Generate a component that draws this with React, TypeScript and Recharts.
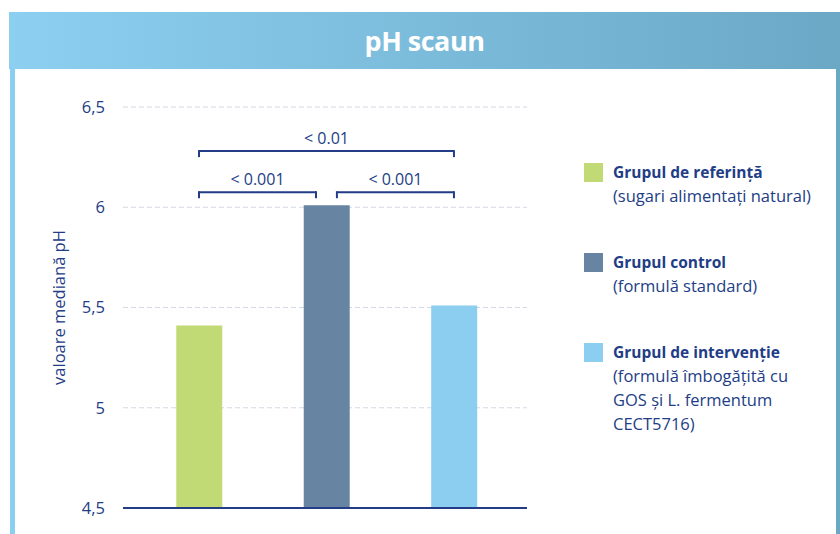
import React from 'react';
import {
  ComposedChart, Bar, Cell, XAxis, YAxis, CartesianGrid, ReferenceLine, ReferenceDot,
} from 'recharts';

const groupNames = ['Grupul de referință', 'Grupul control', 'Grupul de intervenție'];
const groupNotes = [
  ['(sugari alimentați natural)'],
  ['(formulă standard)'],
  ['(formulă îmbogățită cu', 'GOS și L. fermentum', 'CECT5716)'],
];
const groupPositions = [0, 1, 2];
const medianPH = [5.41, 6.01, 5.51];
const groupColors = ['#C1DA76', '#6884A3', '#8BCEF0'];
const yTicks = [4.5, 5, 5.5, 6, 6.5];
const brackets = [
  { from: 0, to: 2, y: 6.28, label: '< 0.01' },
  { from: 0, to: 0.918, y: 6.075, label: '< 0.001' },
  { from: 1.082, to: 2, y: 6.075, label: '< 0.001' },
];
const bracketTick = 0.03;
const labelRise = 0.067;

const NAVY = '#223D86';
const FONT = '"Open Sans", sans-serif';

const data = groupPositions.map((x, i) => ({ x, v: medianPH[i], name: groupNames[i] }));

export default function App() {
  return (
    <div style={{ position: 'absolute', left: 0, top: 0, width: 840, height: 534, background: '#fff', fontFamily: FONT, overflow: 'hidden' }}>
      <div style={{
        position: 'absolute', left: 9, top: 12, width: 831, height: 57,
        background: 'linear-gradient(to right, #8CCFF0, #6BA8C6)',
        color: '#fff', fontWeight: 700, fontSize: 27, textAlign: 'center', lineHeight: '57px',
        fontFamily: FONT, letterSpacing: -0.5,
      }}>
        pH scaun
      </div>
      <div style={{ position: 'absolute', left: 10, top: 69, width: 5, height: 465, background: '#8ACFEF' }} />
      <div style={{ position: 'absolute', left: 836, top: 69, width: 4, height: 465, background: '#6AA7C4' }} />

      <div style={{ position: 'absolute', left: 0, top: 0 }}>
        <ComposedChart width={840} height={534} data={data} margin={{ top: 107, right: 313, bottom: 0, left: 0 }}>
          <CartesianGrid vertical={false} stroke="#D3D8E2" strokeDasharray="5 3" />
          <XAxis dataKey="x" type="number" domain={[-0.596, 2.573]} allowDataOverflow ticks={[]} tick={false}
            tickLine={false} axisLine={{ stroke: NAVY, strokeWidth: 2 }} height={26} />
          <YAxis type="number" domain={[4.5, 6.5]} ticks={yTicks} width={123} axisLine={false} tickLine={false}
            tickMargin={12} interval={0}
            tick={{ fill: NAVY, fontSize: 16.5, fontFamily: FONT }}
            tickFormatter={(v: number) => String(v).replace('.', ',')}
            label={{
              content: (props: any) => {
                const vb = props.viewBox || {};
                const cy = (vb.y ?? 107) + (vb.height ?? 401) / 2;
                return (
                  <text x={58} y={cy} transform={`rotate(-90 58 ${cy})`} textAnchor="middle" dominantBaseline="central"
                    fill={NAVY} fontSize={16.5} fontFamily={FONT}>valoare mediană pH</text>
                );
              },
            }}
          />
          <Bar dataKey="v" barSize={46} isAnimationActive={false}>
            {data.map((d, i) => <Cell key={i} fill={groupColors[i]} />)}
          </Bar>
          {brackets.map((b, i) => (
            <ReferenceLine key={'h' + i} segment={[{ x: b.from, y: b.y }, { x: b.to, y: b.y }]} stroke={NAVY} strokeWidth={2} ifOverflow="visible" />
          ))}
          {brackets.map((b, i) => (
            <ReferenceLine key={'l' + i} segment={[{ x: b.from, y: b.y + 0.005 }, { x: b.from, y: b.y - bracketTick }]} stroke={NAVY} strokeWidth={2} ifOverflow="visible" />
          ))}
          {brackets.map((b, i) => (
            <ReferenceLine key={'r' + i} segment={[{ x: b.to, y: b.y + 0.005 }, { x: b.to, y: b.y - bracketTick }]} stroke={NAVY} strokeWidth={2} ifOverflow="visible" />
          ))}
          {brackets.map((b, i) => (
            <ReferenceDot key={'t' + i} x={(b.from + b.to) / 2} y={b.y + labelRise} ifOverflow="visible"
              shape={(p: any) => (
                <text x={p.cx} y={p.cy} textAnchor="middle" dominantBaseline="central" fill={NAVY} fontSize={16} fontFamily={FONT}>{b.label}</text>
              )}
            />
          ))}
        </ComposedChart>
      </div>

      {groupNames.map((name, i) => {
        const tops = [163, 253, 343];
        return (
          <div key={i} style={{ position: 'absolute', left: 584, top: tops[i], fontFamily: FONT, color: NAVY }}>
            <div style={{ position: 'absolute', left: 0, top: 0, width: 19, height: 19, background: groupColors[i] }} />
            <div style={{ position: 'absolute', left: 29, top: -3, whiteSpace: 'nowrap', fontSize: 16.5, lineHeight: '24px' }}>
              <div style={{ fontWeight: 700, fontSize: 15.5 }}>{name}</div>
              {groupNotes[i].map((t, j) => <div key={j}>{t}</div>)}
            </div>
          </div>
        );
      })}
    </div>
  );
}
